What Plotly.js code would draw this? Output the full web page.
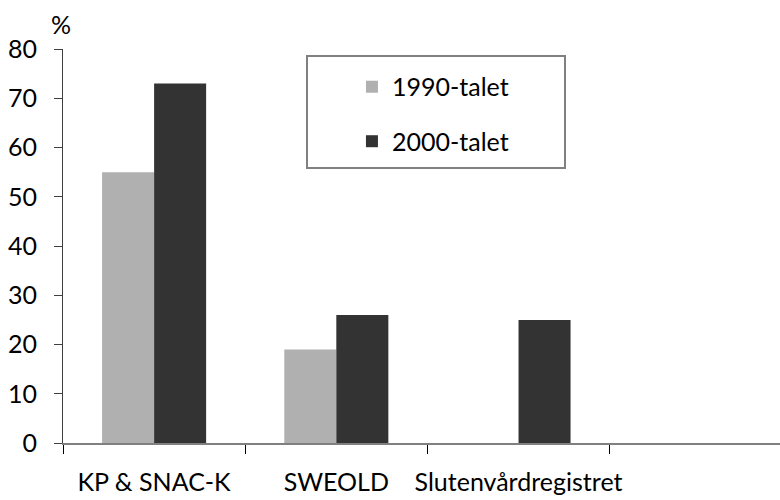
<!DOCTYPE html>
<html>
<head>
<meta charset="utf-8">
<script src="https://cdn.plot.ly/plotly-3.0.1.min.js"></script>
<style>html,body{margin:0;padding:0;background:#fff;}#chart{width:780px;height:500px;}</style>
</head>
<body>
<div id="chart"></div>
<script>
const categories = ["KP & SNAC-K", "SWEOLD", "Slutenvårdregistret", " "];
const series1990 = [55, 19, null, null];
const series2000 = [73, 26, 25, null];
const seriesNames = ["1990-talet", "2000-talet"];
const yTicks = [0, 10, 20, 30, 40, 50, 60, 70, 80];

const FONT = "Lato, 'Open Sans', sans-serif";
const FS = 25;

const traces = [
  {type: "bar", x: categories, y: series1990, name: seriesNames[0], legendgroup: "a",
   marker: {color: "#b0b0b0", line: {width: 0}}},
  {type: "bar", x: categories, y: series2000, name: seriesNames[1], legendgroup: "b",
   marker: {color: "#333333", line: {width: 0}}}
];

const layout = {
  width: 780, height: 500,
  margin: {l: 63, r: 0, t: 49, b: 57, pad: 0},
  paper_bgcolor: "#fff", plot_bgcolor: "#fff",
  font: {family: FONT, size: FS, color: "#000"},
  barmode: "group", bargap: 0.429, bargroupgap: 0,
  xaxis: {
    type: "category", range: [-0.5, 3.435], tickson: "boundaries",
    ticks: "outside", ticklen: 9, tickcolor: "#000", tickwidth: 1,
    showline: true, linecolor: "#808080", linewidth: 2,
    showgrid: false, zeroline: false, ticklabelstandoff: 16, tickangle: 0,
    automargin: false,
    tickfont: {family: FONT, size: FS, color: "#000"}
  },
  yaxis: {
    range: [0, 80], tickvals: yTicks, ticktext: yTicks.map(String),
    ticks: "outside", ticklen: 8, tickcolor: "#404040", tickwidth: 1,
    showline: true, linecolor: "#404040", linewidth: 1,
    showgrid: false, zeroline: false, ticklabelstandoff: 12, automargin: false,
    tickfont: {family: FONT, size: FS, color: "#000"}
  },
  showlegend: true,
  legend: {
    x: 0.403, y: 0.962, xanchor: "left", yanchor: "top",
    bgcolor: "rgba(0,0,0,0)", borderwidth: 0,
    tracegroupgap: 19, font: {family: FONT, size: FS, color: "#000"}
  },
  shapes: [{
    type: "rect", xref: "paper", yref: "paper",
    x0: (307 - 63) / 717, x1: (565 - 63) / 717,
    y0: (443 - 168) / 394, y1: (443 - 56) / 394,
    line: {color: "#808080", width: 2}, fillcolor: "rgba(0,0,0,0)", layer: "above"
  }],
  annotations: [{
    text: "%", xref: "paper", yref: "paper", x: -0.003, y: (443 - 24) / 394,
    xanchor: "center", yanchor: "middle", showarrow: false,
    font: {family: FONT, size: FS, color: "#000"}
  }]
};

Plotly.newPlot("chart", traces, layout, {displayModeBar: false, staticPlot: true});
</script>
</body>
</html>
